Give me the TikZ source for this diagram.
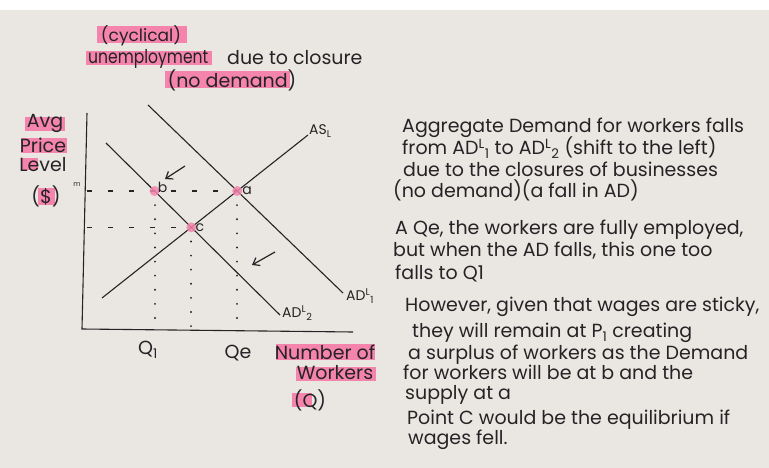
\documentclass[tikz,border=0pt]{standalone}
\usepackage{fontspec}
\setmainfont{Poppins}
\usetikzlibrary{arrows.meta}

\definecolor{paper}{RGB}{234,231,226}
\definecolor{ink}{RGB}{38,35,38}
\definecolor{hilite}{RGB}{244,132,172}

\begin{document}
\begin{tikzpicture}[x=1pt, y=-1pt,
  curve/.style={ink, line width=1.1pt},
  dashline/.style={ink, line width=1.2pt, dash pattern=on 5pt off 16pt},
  dotline/.style={ink, line width=2pt, line cap=round, dash pattern=on 0.1pt off 14pt},
  shiftarrow/.style={ink, line width=1.2pt, -{Straight Barb[length=6pt, width=9pt]}},
  hand/.style={font=\fontsize{19}{22}\selectfont, text=ink, inner sep=0pt,
    text height=14pt, text depth=5pt, anchor=west},
  small/.style={font=\fontsize{19}{22}\selectfont, text=ink, inner sep=0pt},
  tiny/.style={font=\fontsize{14}{16}\selectfont, text=ink, inner sep=0pt},
  blob/.style={fill=hilite, opacity=0.85}]
  % --- Paper ---
  \fill[white] (0,0) rectangle (769,468);
  \fill[paper] (0,10) rectangle (769,468);
  \useasboundingbox (0,0) rectangle (769,468);

  % --- Highlighter marks ---
  \fill[hilite] (97,26) rectangle (187,43);
  \fill[hilite] (86,51) rectangle (212,65);
  \fill[hilite] (165,71) rectangle (290,88);
  \fill[hilite] (25,117) rectangle (65,131);
  \fill[hilite] (21,138) rectangle (67,153);
  \fill[hilite] (22,158) rectangle (38,170);
  \fill[hilite] (38,188) rectangle (55,205);
  \fill[hilite] (276,344) rectangle (375,360);
  \fill[hilite] (296,367) rectangle (376,381);
  \fill[hilite] (292,393) rectangle (312,407);

  % --- Title ---
  \node[small, font=\fontsize{17}{20}\selectfont] (cyc) at (141,36) {(cyclical)};
  \node[small, anchor=west] (unemp) at (88,59) {\scalebox{0.82}[1]{unemployment}};
  \node[small, anchor=west] (closure) at (227,58) {due to closure};
  \node[small] (nodem) at (232,80) {(no demand)};

  % --- Axes ---
  \coordinate (ytop) at (87,113);
  \coordinate (origin) at (82,329);
  \coordinate (xend) at (353,332);
  \draw[curve] (ytop) -- (origin) -- (xend);

  \node[small] (avg) at (45,123) {Avg};
  \node[small] (price) at (43,145) {Price};
  \node[small] (level) at (43,165) {Level};
  \node[small] (dollar) at (46,196) {(\$)};
  \node[font=\fontsize{7}{8}\selectfont, text=ink, inner sep=0pt] (mlab) at (77,185) {m};

  % --- Curves ---
  \coordinate (as1) at (102,298);
  \coordinate (as2) at (308,135);
  \coordinate (ad1a) at (148,105);
  \coordinate (ad1b) at (343,293);
  \coordinate (ad2a) at (106,143);
  \coordinate (ad2b) at (280,315);
  \draw[curve] (as1) -- (as2);
  \draw[curve] (ad1a) -- (ad1b);
  \draw[curve] (ad2a) -- (ad2b);

  \node[tiny, anchor=west] (aslab) at (309,131) {AS\textsubscript{L}};
  \node[tiny, anchor=west] (ad1lab) at (346,296) {AD\textsuperscript{L}\textsubscript{1}};
  \node[tiny, anchor=west] (ad2lab) at (282,313) {AD\textsuperscript{L}\textsubscript{2}};

  % --- Equilibrium points ---
  \coordinate (a) at (intersection of as1--as2 and ad1a--ad1b);
  \coordinate (c) at (intersection of as1--as2 and ad2a--ad2b);
  \coordinate (pm) at (ytop |- a);
  \coordinate (pc) at (ytop |- c);
  \coordinate (b) at (intersection of ad2a--ad2b and pm--a);

  \draw[dashline] (pm) -- (a);
  \draw[dashline] (pc) -- (c);
  \draw[dotline] (b) -- (b |- origin);
  \draw[dotline] (c) -- (c |- origin);
  \draw[dotline] (a) -- (a |- xend);

  \fill[blob] (a) circle (5);
  \fill[blob] (b) circle (5);
  \fill[blob] (c) circle (5);
  \node[tiny, anchor=west] (alab) at ([xshift=5pt]a) {a};
  \node[tiny, anchor=west] (blab) at ([xshift=3pt,yshift=4pt]b) {b};
  \node[tiny, anchor=west] (clab) at ([xshift=4pt]c) {c};

  % --- Shift arrows ---
  \coordinate (arr1s) at (185,166);
  \coordinate (arr1e) at (165,179);
  \coordinate (arr2s) at (275,252);
  \coordinate (arr2e) at (252,265);
  \draw[shiftarrow] (arr1s) -- (arr1e);
  \draw[shiftarrow] (arr2s) -- (arr2e);

  % --- Axis labels ---
  \node[small] (q1) at (148,350) {Q\textsubscript{1}};
  \node[small] (qe) at (238,353) {Qe};
  \node[small] (numof) at (325,352) {Number of};
  \node[small] (wrk) at (335,373) {Workers};
  \node[small] (qlab) at (310,400) {(Q)};

  % --- Explanation ---
  \node[hand] (t1) at (402,128) {Aggregate Demand for workers falls};
  \node[hand] (t2) at (402,150) {from AD\textsuperscript{L}\textsubscript{1} to AD\textsuperscript{L}\textsubscript{2} (shift to the left)};
  \node[hand] (t3) at (403,172) {due to the closures of businesses};
  \node[hand] (t4) at (393,193) {(no demand)(a fall in AD)};
  \node[hand] (t5) at (395,230) {A Qe, the workers are fully employed,};
  \node[hand] (t6) at (393,252) {but when the AD falls, this one too};
  \node[hand] (t7) at (395,275) {falls to Q1};
  \node[hand] (t8) at (405,307) {However, given that wages are sticky,};
  \node[hand] (t9) at (412,333) {they will remain at P\textsubscript{1} creating};
  \node[hand] (t10) at (408,355) {a surplus of workers as the Demand};
  \node[hand] (t11) at (403,375) {for workers will be at b and the};
  \node[hand] (t12) at (405,395) {supply at a};
  \node[hand] (t13) at (407,420) {Point C would be the equilibrium if};
  \node[hand] (t14) at (408,440) {wages fell.};
\end{tikzpicture}
\end{document}
